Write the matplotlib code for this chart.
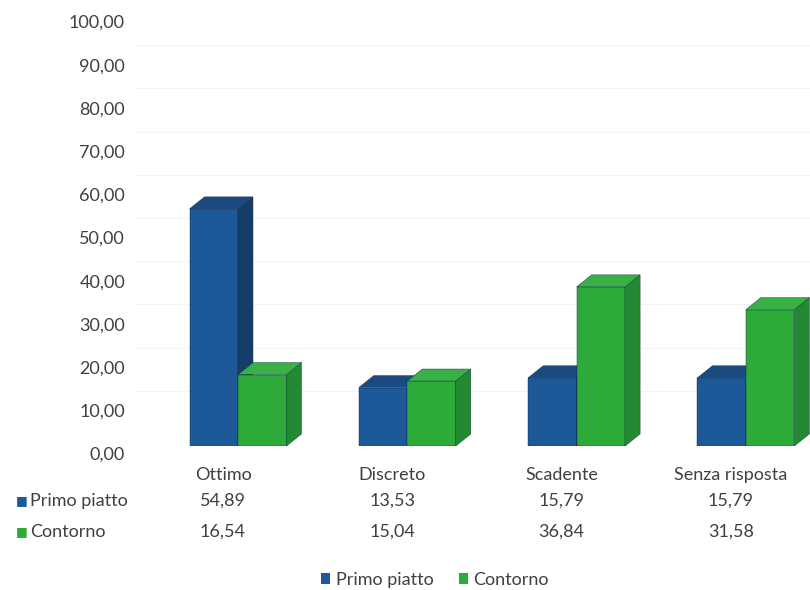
import numpy as np
import matplotlib.pyplot as plt
from matplotlib.patches import Polygon, Patch
from matplotlib.transforms import ScaledTranslation

plt.rcParams["font.family"] = ["Lato", "DejaVu Sans"]

# dati
categories = ["Ottimo", "Discreto", "Scadente", "Senza risposta"]
series_names = ["Primo piatto", "Contorno"]
primo_piatto = [54.89, 13.53, 15.79, 15.79]
contorno = [16.54, 15.04, 36.84, 31.58]
yticks = [0, 10, 20, 30, 40, 50, 60, 70, 80, 90, 100]

# colori (fronte, lato, sopra)
BLUE = ("#1d5899", "#153d69", "#1a4a80")
GREEN = ("#2eaa3b", "#238a33", "#39b045")
TXT = "#404040"
FS = 13

W, H = 810, 590
DPI = 100


def fmt(v):
    return f"{v:.2f}".replace(".", ",")


def px(dx, dy):
    # spostamento in pixel
    return ScaledTranslation(dx / DPI, dy / DPI, fig.dpi_scale_trans)


fig = plt.figure(figsize=(W / DPI, H / DPI), dpi=DPI)
fig.patch.set_facecolor("white")

# area del grafico: zero davanti a y=446 px, gruppi ogni ~169 px
ax_l, ax_r, ax_b, ax_t = 120, 810, 446, 14
ax = fig.add_axes([ax_l / W, (H - ax_b) / H, (ax_r - ax_l) / W, (ax_b - ax_t) / H])
step = 169.3
x0 = 238
ax.set_xlim(-(x0 - ax_l) / step, (ax_r - x0) / step)
ax.set_ylim(0, 100)
ax.axis("off")

x = np.arange(len(categories))
bw = 48.5 / step
# profondità 3D in unità dati
ddx = 15 * (ax.get_xlim()[1] - ax.get_xlim()[0]) / (ax_r - ax_l)
ddy = 12 * 100 / (ax_b - ax_t)

# griglia sul fondo (quasi invisibile nella scansione)
for v in yticks[1:]:
    ln = ax.axhline(v, color="#f4f4f4", lw=0.8, zorder=0)
    ln.set_transform(ln.get_transform() + px(15, 12))


def bars3d(xc, vals, cols, z):
    ax.bar(xc, vals, width=bw, color=cols[0], edgecolor="#0f2a45", lw=0.3, zorder=z)
    for xi, h in zip(xc, vals):
        l, r = xi - bw / 2, xi + bw / 2
        side = Polygon([(r, 0), (r + ddx, ddy), (r + ddx, h + ddy), (r, h)],
                       closed=True, facecolor=cols[1], edgecolor="#0f2a45", lw=0.3, zorder=z)
        top = Polygon([(l, h), (l + ddx, h + ddy), (r + ddx, h + ddy), (r, h)],
                      closed=True, facecolor=cols[2], edgecolor="#0f2a45", lw=0.3, zorder=z)
        ax.add_patch(side)
        ax.add_patch(top)


bars3d(x - bw / 2, primo_piatto, BLUE, 2)
bars3d(x + bw / 2, contorno, GREEN, 3)

# etichette asse y
ytr = ax.get_yaxis_transform() + px(5, -9)
for v in yticks:
    ax.text(0, v, fmt(v), transform=ytr, ha="right", va="center", fontsize=FS, color=TXT)

# tabella dati sotto il grafico
def row_tr(dy):
    return ax.get_xaxis_transform() + px(-15, -dy)

for xi, cat, a, b in zip(x, categories, primo_piatto, contorno):
    ax.text(xi, 0, cat, transform=row_tr(29), ha="center", va="center", fontsize=FS, color=TXT)
    ax.text(xi, 0, fmt(a), transform=row_tr(55), ha="center", va="center", fontsize=FS, color=TXT)
    ax.text(xi, 0, fmt(b), transform=row_tr(86), ha="center", va="center", fontsize=FS, color=TXT)

for name, cols, ypx in [(series_names[0], BLUE, 501), (series_names[1], GREEN, 532)]:
    fig.text(22 / W, 1 - ypx / H, "\u25a0", ha="center", va="center",
             fontsize=9, color=cols[0], family="DejaVu Sans")
    fig.text(30 / W, 1 - ypx / H, name, ha="left", va="center", fontsize=FS, color=TXT)

handles = [Patch(facecolor=BLUE[0]), Patch(facecolor=GREEN[0])]
fig.legend(handles, series_names, loc="center", bbox_to_anchor=(435 / W, 1 - 580 / H),
           ncol=2, frameon=False, fontsize=FS, labelcolor=TXT,
           handlelength=0.5, handleheight=0.5, handletextpad=0.3, columnspacing=1.4)

fig.savefig("out.png", dpi=DPI, facecolor="white")
